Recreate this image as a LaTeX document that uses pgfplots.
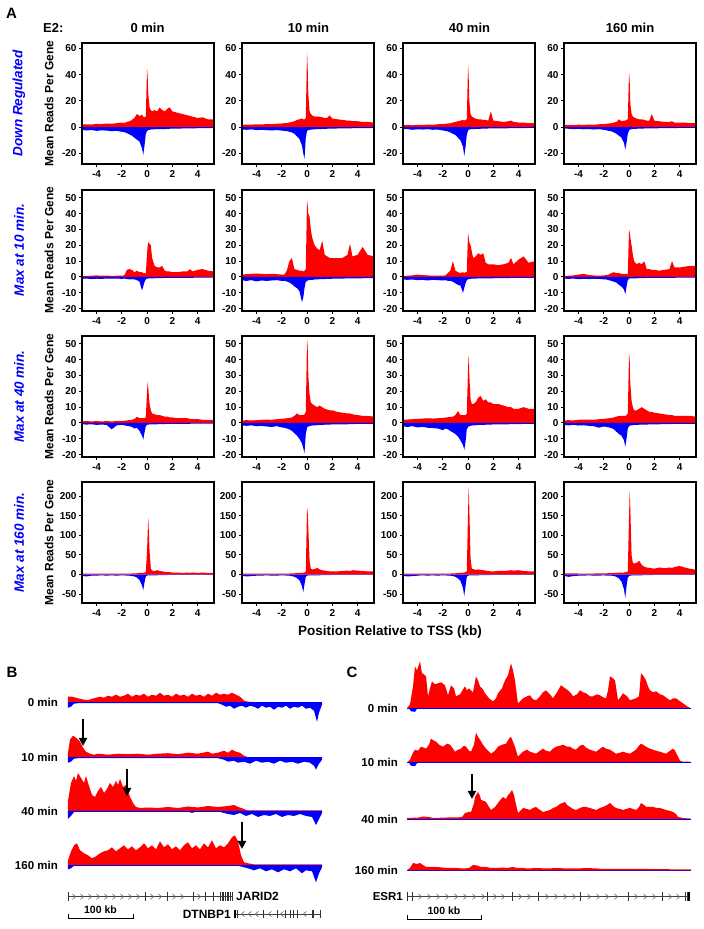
\documentclass[border=0pt]{standalone}
\usepackage{fontspec}
\setmainfont{Liberation Sans}
\usepackage{pgfplots}
\usepackage{pgfplotstable}
\pgfplotsset{compat=1.18}
\usetikzlibrary{arrows.meta}

\newcommand{\fs}[1]{\fontsize{#1}{#1}\selectfont\bfseries}

\pgfplotsset{
  prof/.style={scale only axis, width=132pt, height=121pt, anchor=south west,
    xmin=-5.15, xmax=5.3, xtick={-4,-2,0,2,4},
    axis line style={line width=1.5pt},
    tick style={line width=1pt, black}, major tick length=3pt,
    tick align=outside, tick pos=left,
    ticklabel style={font=\fs{10}},
    yticklabel style={xshift=1pt},
    /pgf/number format/assume math mode=true,
    axis on top},
  r1/.style={prof, ymin=-28, ymax=64, ytick={-20,0,20,40,60}},
  r2/.style={prof, ymin=-21.5, ymax=55, ytick={-20,-10,0,10,20,30,40,50}},
  r4/.style={prof, ymin=-73, ymax=237, ytick={-50,0,50,100,150,200}},
  trk/.style={scale only axis, anchor=south west, axis lines=none, clip=false},
}
\tikzset{arr/.style={line width=2pt, -{Triangle[length=8pt,width=8pt]}}}

% x, then positive (p) and negative (n) strand for the four time points
\pgfplotstableread{
x     p1   n1    p2   n2    p3   n3    p4   n4
-5.2  2.0 -2.0   1.8 -1.8   1.5 -1.2   1.5 -1.0
-4.8  2.2 -2.5   2.0 -2.0   1.8 -1.5   1.8 -1.2
-4.4  2.0 -2.2   1.9 -1.7   1.4 -2.0   1.6 -1.5
-4.0  2.5 -2.8   2.2 -2.2   1.8 -1.6   1.9 -1.3
-3.6  2.3 -2.4   2.0 -2.0   1.6 -1.8   1.7 -1.6
-3.2  2.8 -2.6   2.4 -2.3   2.0 -1.5   2.0 -1.4
-2.8  2.6 -3.0   2.2 -2.5   1.8 -2.0   1.8 -1.8
-2.4  3.0 -2.8   2.6 -2.2   2.2 -1.8   2.2 -1.5
-2.0  3.5 -3.5   2.8 -2.6   2.4 -2.5   2.4 -2.0
-1.8  3.2 -3.8   3.0 -2.8   2.6 -2.8   2.6 -2.4
-1.6  4.0 -4.5   3.2 -3.0   2.8 -3.2   2.8 -2.8
-1.4  4.5 -5.5   3.5 -3.5   3.0 -4.0   3.0 -3.2
-1.2  5.5 -6.5   4.0 -4.0   3.5 -5.0   3.5 -4.0
-1.0  7.0 -8.0   4.5 -5.0   4.0 -6.0   4.0 -5.0
-0.8 10.0 -9.5   5.5 -7.0   4.5 -8.0   6.0 -6.5
-0.6  8.5 -11    6.0 -9.0   5.0 -10    4.5 -8.0
-0.4  9.5 -16    6.5 -14    5.5 -15    5.0 -12
-0.3  8.0 -21    6.0 -20    5.0 -22    5.0 -17
-0.2  7.5 -14    6.0 -24    5.5 -15    5.5 -12
-0.1  8.0 -5     7.0 -8     6.0 -6     6.0 -5
0.0   45  -3     57  -3     47  -2.5   42  -2.5
0.05  38  -2.5   45  -2.5   38  -2     35  -2
0.1   25  -2.2   25  -2.2   20  -1.8   18  -1.8
0.2   15  -2     12  -2     10  -1.6   10  -1.5
0.3   13  -1.8   10  -1.8   8   -1.5   8   -1.4
0.4   12  -1.7   9   -1.8   7.5 -1.5   7.5 -1.3
0.6   13  -1.6   8   -1.6   6.5 -1.4   6.5 -1.2
0.8   12  -1.5   8   -1.5   6   -1.3   6   -1.2
1.0   15  -1.5   8   -1.4   6   -1.2   6   -1.1
1.2   13  -1.4   7.5 -1.4   5.5 -1.2   5.5 -1.0
1.4   12  -1.5   7   -1.3   5.5 -1.1   5   -1.0
1.6   14  -1.3   7   -1.2   5   -1.0   5   -1.0
1.8   15  -1.2   9   -1.2   12  -1.0   10  -0.9
2.0   12  -1.2   6.5 -1.1   5   -1.0   5   -0.9
2.4   11  -1.1   6   -1.0   4.5 -0.9   4.5 -0.8
2.8   10  -1.0   5.5 -1.0   4   -0.9   4   -0.8
3.2   9   -1.0   5   -0.9   4.5 -0.8   4   -0.8
3.4   8.5 -0.9   5   -0.9   5   -0.8   4.5 -0.7
3.6   8   -0.9   4.5 -0.8   4   -0.8   3.5 -0.7
4.0   7   -0.8   4.5 -0.8   3.5 -0.7   3.5 -0.6
4.4   7.5 -0.8   4   -0.7   3.5 -0.7   3.5 -0.6
4.8   6   -0.7   4   -0.7   3   -0.6   3   -0.6
5.3   6   -0.6   3.5 -0.6   3   -0.6   3   -0.5
}\rowdown

\pgfplotstableread{
x     p1   n1    p2   n2    p3   n3    p4   n4
-5.2  0.5 -1.2   1.5 -2.0   0.5 -1.5   0.5 -1.0
-4.8  0.6 -1.0   1.8 -2.5   0.8 -1.8   0.8 -1.2
-4.4  0.8 -1.3   2.0 -2.0   1.0 -1.6   1.0 -1.0
-4.0  1.0 -1.1   2.2 -2.8   1.5 -2.0   1.5 -1.4
-3.6  0.8 -1.2   2.0 -2.2   1.2 -1.8   2.0 -1.2
-3.2  0.9 -1.0   1.8 -2.5   1.0 -2.2   1.2 -1.3
-2.8  0.7 -1.1   2.0 -2.2   0.8 -1.8   1.0 -1.1
-2.4  0.8 -1.0   1.8 -2.0   0.8 -2.0   0.8 -1.2
-2.0  0.8 -1.2   1.5 -2.5   0.8 -2.2   1.0 -1.5
-1.8  1.0 -1.0   1.5 -2.4   1.0 -2.0   1.2 -1.6
-1.6  4.5 -1.3   4.0 -2.8   2.5 -2.4   1.5 -2.0
-1.4  5.0 -1.5   10  -3.5   4.0 -2.5   2.5 -2.5
-1.2  4.5 -1.4   12  -4.5   10  -3.0   3.0 -3.0
-1.0  3.0 -1.5   5.0 -6.0   4.0 -4.0   2.5 -3.5
-0.8  4.0 -2.0   4.5 -7.0   3.0 -5.0   2.5 -5.0
-0.6  3.0 -3.0   4.0 -9.0   2.5 -5.5   2.0 -6.0
-0.4  3.0 -8.5   4.0 -16    3.0 -10    2.0 -8.0
-0.3  2.5 -6.0   3.5 -13    2.5 -7.0   2.0 -11
-0.2  2.5 -3.0   4.0 -7.0   3.0 -4.0   2.0 -6.0
-0.1  2.0 -1.5   5.0 -3.0   3.0 -2.0   2.0 -2.0
0.0   15  -1.0   49  -2.5   28  -1.5   30  -1.0
0.05  20  -1.0   45  -2.2   25  -1.3   28  -1.0
0.1   22  -0.9   40  -2.0   22  -1.2   25  -0.9
0.2   21  -0.9   38  -2.0   20  -1.2   20  -0.9
0.3   20  -0.8   30  -1.8   16  -1.0   14  -0.8
0.4   12  -0.8   25  -1.8   12  -1.0   10  -0.8
0.6   7   -0.8   20  -1.6   13  -1.0   8   -0.8
0.8   6   -0.7   18  -1.5   15  -0.9   9   -0.7
1.0   6   -0.7   17  -1.4   14  -0.9   8   -0.7
1.2   7   -0.7   23  -1.4   15  -0.9   10  -0.7
1.4   4   -0.6   14  -1.3   9   -0.8   5   -0.6
1.6   3.5 -0.6   13  -1.2   8   -0.8   5   -0.6
1.8   3.5 -0.6   12  -1.2   8   -0.8   4.5 -0.6
2.0   3   -0.6   12  -1.1   8   -0.8   4.5 -0.6
2.4   3   -0.5   12  -1.0   7.5 -0.7   4   -0.5
2.8   3.5 -0.5   12  -1.0   8   -0.7   4.5 -0.5
3.2   3.5 -0.5   14  -0.9   9   -0.7   5   -0.5
3.4   5   -0.5   21  -0.9   12  -0.6   10  -0.5
3.6   3.5 -0.5   13  -0.9   8   -0.6   6   -0.5
4.0   4.5 -0.4   14  -0.8   11  -0.6   6   -0.4
4.4   5   -0.4   19  -0.8   13  -0.6   6.5 -0.4
4.8   4   -0.4   14  -0.7   9   -0.5   7   -0.4
5.3   3.5 -0.4   13  -0.7   10  -0.5   7   -0.4
}\rowten

\pgfplotstableread{
x     p1   n1    p2   n2    p3   n3    p4   n4
-5.2  1.0 -0.8   1.5 -1.5   2.0 -2.0   1.5 -1.2
-4.8  1.2 -1.0   1.8 -1.8   2.2 -2.5   1.8 -1.5
-4.4  1.0 -0.8   1.6 -1.5   2.4 -2.0   1.6 -1.2
-4.0  1.2 -1.2   1.8 -2.0   2.6 -2.8   2.0 -1.6
-3.6  1.0 -1.0   2.0 -1.8   2.8 -2.4   2.2 -1.4
-3.2  1.2 -1.2   2.2 -2.2   3.0 -3.0   2.2 -1.8
-2.8  1.0 -4.0   2.0 -2.5   2.8 -3.2   2.0 -2.0
-2.4  1.2 -1.5   2.4 -2.0   3.0 -3.5   2.4 -3.0
-2.0  1.4 -1.2   2.6 -2.8   3.2 -4.5   2.6 -2.2
-1.8  1.4 -1.5   2.8 -3.0   3.4 -3.5   2.8 -2.5
-1.6  1.6 -1.8   3.0 -3.5   3.6 -4.0   3.0 -2.8
-1.4  1.8 -2.0   3.2 -4.0   3.8 -5.0   3.2 -3.2
-1.2  2.0 -2.5   3.5 -5.0   4.0 -6.0   3.5 -4.0
-1.0  2.5 -3.5   4.5 -6.5   5.0 -7.0   4.0 -5.5
-0.8  4.0 -3.0   6.0 -8.0   7.5 -8.5   4.5 -7.0
-0.6  3.0 -5.0   5.0 -10    5.0 -11    4.5 -8.0
-0.4  3.0 -8.0   5.0 -13    5.0 -14    4.5 -11
-0.3  3.0 -10.5  5.0 -16    5.0 -17    4.5 -15
-0.2  3.0 -6.0   5.5 -19    5.0 -12    5.0 -10
-0.1  3.5 -2.0   7.0 -7.0   6.0 -4.0   6.0 -3.5
0.0   20  -1.2   53  -3.0   35  -2.5   44  -2.0
0.05  26  -1.0   48  -2.5   43  -2.2   40  -1.8
0.1   22  -1.0   30  -2.2   30  -2.0   25  -1.6
0.2   12  -0.9   18  -2.0   15  -1.8   14  -1.5
0.3   8   -0.9   13  -1.8   12  -1.6   10  -1.4
0.4   6   -0.8   12  -1.6   12  -1.5   8   -1.2
0.6   5.5 -0.8   11  -1.5   13  -1.4   8   -1.2
0.8   5   -0.8   10  -1.4   16  -1.3   9   -1.1
1.0   5   -0.7   11  -1.3   17  -1.2   10  -1.0
1.2   4.5 -0.7   10  -1.2   14  -1.2   9   -1.0
1.4   4   -0.7   9   -1.1   15  -1.1   8   -1.0
1.6   4   -0.6   8.5 -1.0   13  -1.0   7   -0.9
1.8   3.5 -0.6   8   -1.0   13  -1.0   7   -0.9
2.0   3.5 -0.6   8   -0.9   12  -0.9   6.5 -0.8
2.4   3   -0.5   7   -0.9   12  -0.9   6   -0.8
2.8   3   -0.5   6.5 -0.8   11  -0.8   5.5 -0.7
3.2   3   -0.5   6   -0.8   10  -0.8   5   -0.7
3.4   2.5 -0.5   6   -0.7   10  -0.7   5   -0.6
3.6   2.5 -0.4   5.5 -0.7   9   -0.7   4.5 -0.6
4.0   2.5 -0.4   5   -0.6   9   -0.7   4.5 -0.6
4.4   2   -0.4   4.5 -0.6   10  -0.6   4.5 -0.5
4.8   2   -0.4   4.5 -0.5   9   -0.6   4.5 -0.5
5.3   2   -0.4   4   -0.5   9   -0.5   4   -0.5
}\rowforty

\pgfplotstableread{
x     p1   n1    p2   n2    p3   n3    p4   n4
-5.2  2   -3    2   -3    2   -3    3   -3
-4.8  2   -5    2   -5    2   -5    3   -6
-4.4  2   -3    2   -4    2   -4    3   -4
-4.0  2   -3    2   -3    2   -3    2.5 -3
-3.6  2   -2    2   -3    2   -2    2.5 -3
-3.2  2   -3    2   -2    2   -3    2.5 -2
-2.8  2   -2    2   -3    2   -2    2.5 -3
-2.4  2   -3    2   -3    2   -3    3   -3
-2.0  2   -2    2   -2    2   -2    3   -2
-1.8  2   -2    2   -2    2   -2    3   -3
-1.6  2   -3    2   -3    2   -3    3.5 -3
-1.4  2.5 -3    2.5 -3    2.5 -3    3.5 -3
-1.2  2.5 -4    3   -4    3   -4    4   -4
-1.0  3   -5    3   -6    3   -6    4   -6
-0.8  3   -8    4   -9    4   -10   5   -10
-0.6  4   -14   4   -15   4   -16   5   -18
-0.4  4   -28   4   -30   5   -35   5   -38
-0.3  4   -40   5   -45   5   -55   6   -60
-0.2  5   -20   5   -25   6   -30   6   -30
-0.1  6   -5    8   -6    8   -6    8   -8
0.0   60  -3    172 -3    160 -3    150 -4
0.05  110 -2.5  160 -3    225 -3    215 -3
0.1   145 -2.5  120 -2.5  170 -2.5  170 -3
0.2   60  -2    35  -2    40  -2    50  -2.5
0.3   15  -2    15  -2    15  -2    30  -2.5
0.4   10  -2    13  -2    14  -2    28  -2
0.6   9   -2    14  -2    12  -2    30  -2
0.8   11  -2    17  -2    13  -2    35  -2
1.0   9   -1.5  13  -2    12  -1.5  25  -2
1.2   8   -1.5  11  -1.5  11  -1.5  20  -1.5
1.4   7   -1.5  10  -1.5  10  -1.5  18  -1.5
1.6   6   -1.5  9   -1.5  9   -1.5  17  -1.5
1.8   6   -1    8   -1.5  8   -1.5  16  -1.5
2.0   5   -1    8   -1    8   -1    15  -1
2.4   5   -1    8   -1    9   -1    18  -1
2.8   4   -1    9   -1    9   -1    16  -1
3.2   5   -1    10  -1    10  -1    18  -1
3.4   4   -1    9   -1    11  -1    17  -1
3.6   5   -1    11  -1    10  -1    19  -1
4.0   4   -1    10  -1    11  -1    22  -1
4.4   5   -1    9   -1    9   -1    18  -1
4.8   4   -1    8   -1    8   -1    15  -1
5.3   4   -1    8   -1    8   -1    12  -1
}\rowonesixty

% #1 row style, #2 left, #3 bottom, #4 table, #5 column
\newcommand{\panel}[5]{%
  \begin{axis}[#1, at={(#2pt,#3pt)}]
    \addplot[fill=red, draw=none] table[x=x, y=p#5]{#4} \closedcycle;
    \addplot[fill=blue, draw=none] table[x=x, y=n#5]{#4} \closedcycle;
  \end{axis}}

\begin{document}
\begin{tikzpicture}
\path (0pt,0pt) rectangle (704pt,929pt);

% ---------------- panel A ----------------
\node[anchor=west, inner sep=0] at (6pt,916pt) {\fs{15}A};
\node[anchor=west, inner sep=0] at (43pt,901pt) {\fs{13}E2:};
\node at (147.5pt,901pt) {\fs{13}0 min};
\node at (308.5pt,901pt) {\fs{13}10 min};
\node at (469.5pt,901pt) {\fs{13}40 min};
\node at (630pt,901pt) {\fs{13}160 min};

\foreach \c/\xx in {1/82, 2/242, 3/403, 4/564} {
  \panel{r1}{\xx}{765}{\rowdown}{\c}
  \panel{r2}{\xx}{618}{\rowten}{\c}
  \panel{r2}{\xx}{472}{\rowforty}{\c}
  \panel{r4}{\xx}{326}{\rowonesixty}{\c}
}

\foreach \yy/\lab in {825.5/Down Regulated, 679/Max at 10 min., 532.5/Max at 40 min., 386.5/Max at 160 min.} {
  \node[rotate=90, text=blue] at (19pt,\yy pt) {\fontsize{13.5}{14}\selectfont\bfseries\itshape \lab};
  \node[rotate=90] at (49pt,\yy pt) {\fs{12}Mean Reads Per Gene};
}
\node at (390pt,297pt) {\fs{13.5}Position Relative to TSS (kb)};

% ---------------- panel B ----------------
\node[inner sep=0] at (12pt,257pt) {\fs{15}B};
\foreach \yy/\lab in {226.3/0 min, 171.3/10 min, 118/40 min, 63.7/160 min}
  \node[anchor=east, inner sep=0] at (58pt,\yy pt) {\fs{11.5}\lab};

\begin{axis}[trk, at={(68pt,204.3pt)}, width=254pt, height=62pt, xmin=0, xmax=254, ymin=-22, ymax=40]
\addplot[fill=red, draw=none] coordinates {(0,0)(0,6)(4,6)(8,5)(12,4)(16,3)(20,2.5)(24,4)(28,5)(32,6)(36,5)(40,7)(44,6)(48,8)(52,6)(56,7)(60,9)(64,6)(68,8)(72,7)(76,9)(80,6)(84,8)(88,7)(92,10)(96,7)(100,8)(104,6)(108,9)(112,7)(116,8)(120,6)(124,9)(128,7)(132,8)(136,6)(140,9)(144,7)(148,10)(152,8)(156,9)(160,8)(164,10)(168,8)(172,6)(176,2)(180,1)(190,0.5)(254,0.5)(254,0)} \closedcycle;
\addplot[fill=blue, draw=none] coordinates {(0,0)(0,-5)(3,-4)(6,-1)(10,-0.5)(150,-0.5)(154,-2)(158,-4)(162,-3)(166,-6)(170,-4)(174,-3)(178,-5)(182,-3)(186,-4)(190,-6)(194,-3)(198,-5)(202,-4)(206,-7)(210,-4)(214,-5)(218,-3)(222,-6)(226,-4)(230,-5)(234,-3)(238,-6)(242,-5)(246,-8)(249,-19)(251,-10)(254,-2)(254,0)} \closedcycle;
\addplot[blue, line width=0.8pt] coordinates {(0,0)(254,0)};
\end{axis}

\begin{axis}[trk, at={(68pt,149.3pt)}, width=254pt, height=62pt, xmin=0, xmax=254, ymin=-22, ymax=40]
\addplot[fill=red, draw=none] coordinates {(0,0)(0,5)(2,18)(5,22)(8,20)(12,16)(15,10)(18,6)(22,4)(26,3)(30,4)(40,3)(50,4)(60,3.5)(70,4)(80,3)(90,4)(100,4.5)(110,3.5)(120,5)(130,4)(140,6)(144,4)(150,5)(156,7)(160,5)(164,8)(168,6)(172,5)(176,2)(180,0.5)(254,0.5)(254,0)} \closedcycle;
\addplot[fill=blue, draw=none] coordinates {(0,0)(0,-5)(3,-4)(6,-1)(10,-0.5)(150,-0.5)(156,-2)(160,-4)(166,-3)(170,-5)(176,-4)(182,-6)(188,-3)(194,-5)(200,-4)(206,-6)(212,-3)(218,-5)(224,-4)(230,-6)(236,-4)(242,-5)(246,-8)(248,-12)(251,-6)(254,-2)(254,0)} \closedcycle;
\addplot[blue, line width=0.8pt] coordinates {(0,0)(254,0)};
\end{axis}

\begin{axis}[trk, at={(68pt,96pt)}, width=254pt, height=62pt, xmin=0, xmax=254, ymin=-22, ymax=40]
\addplot[fill=red, draw=none] coordinates {(0,0)(0,10)(3,28)(6,35)(8,30)(10,38)(13,33)(16,28)(18,35)(21,25)(24,16)(27,14)(30,20)(33,24)(36,18)(39,22)(42,28)(45,24)(48,30)(50,26)(52,32)(55,24)(58,26)(60,20)(62,14)(65,8)(68,4)(72,3)(80,3.5)(90,3)(100,4)(110,3)(120,4.5)(130,3.5)(140,5)(150,4)(160,5)(166,6)(170,4)(176,2)(180,0.5)(254,0.5)(254,0)} \closedcycle;
\addplot[fill=blue, draw=none] coordinates {(0,0)(0,-8)(3,-5)(6,-1)(10,-0.5)(120,-0.5)(124,-2)(128,-0.5)(150,-0.5)(156,-2)(160,-3)(166,-4)(172,-2)(178,-5)(184,-3)(190,-6)(196,-4)(202,-5)(208,-3)(214,-6)(220,-4)(226,-5)(232,-3)(238,-5)(244,-6)(248,-14)(251,-8)(254,-2)(254,0)} \closedcycle;
\addplot[blue, line width=0.8pt] coordinates {(0,0)(254,0)};
\end{axis}

\begin{axis}[trk, at={(68pt,41.7pt)}, width=254pt, height=62pt, xmin=0, xmax=254, ymin=-22, ymax=40]
\addplot[fill=red, draw=none] coordinates {(0,0)(0,5)(3,14)(6,20)(9,22)(12,15)(16,12)(20,10)(24,7)(28,9)(32,12)(36,14)(40,15)(44,18)(48,14)(52,17)(56,20)(60,16)(64,19)(68,15)(72,18)(76,22)(80,17)(84,20)(88,16)(92,24)(96,18)(100,21)(104,16)(108,19)(112,15)(116,20)(120,23)(124,17)(128,20)(132,16)(136,22)(140,18)(144,25)(148,17)(152,20)(156,18)(160,22)(164,28)(167,30)(170,24)(173,10)(176,3)(180,2)(186,1)(254,1)(254,0)} \closedcycle;
\addplot[fill=blue, draw=none] coordinates {(0,0)(0,-4)(3,-3)(6,-0.5)(170,-0.5)(176,-2)(180,-3)(186,-5)(192,-3)(198,-6)(204,-4)(210,-7)(216,-4)(222,-6)(228,-3)(234,-8)(238,-5)(244,-6)(248,-17)(251,-8)(254,-2)(254,0)} \closedcycle;
\addplot[blue, line width=0.8pt] coordinates {(0,0)(254,0)};
\end{axis}

\draw[arr] (83pt,210pt) -- (83pt,183pt);
\draw[arr] (127pt,160pt) -- (127pt,133pt);
\draw[arr] (242pt,107pt) -- (242pt,80pt);

% gene models
\draw[black!75, line width=0.7pt] (68pt,32.3pt) -- (233pt,32.3pt);
\foreach \g in {68,145,167,193,205,213,220,222,223,225,227,228,230,232}
  \draw[black!80, line width=0.7pt] (\g pt,28pt) -- (\g pt,36.6pt);
\foreach \g in {74,82,90,98,106,114,122,130,138,152,160,174,182,199}
  \draw[black!60, line width=0.6pt] (\g pt-1.5pt,35pt) -- (\g pt+1.5pt,32.3pt) -- (\g pt-1.5pt,29.6pt);
\node[anchor=west, inner sep=0] at (236pt,32.3pt) {\fs{12}JARID2};
\draw[black!75, line width=0.7pt] (235pt,15pt) -- (320pt,15pt);
\foreach \g in {237,263,277,285,290,293,297,312,313,320}
  \draw[black!80, line width=0.7pt] (\g pt,10.7pt) -- (\g pt,19.3pt);
\draw[black, line width=1.2pt] (235pt,10.7pt) -- (235pt,19.3pt);
\foreach \g in {243,250,257,270,282,305}
  \draw[black!60, line width=0.6pt] (\g pt+1.5pt,17.7pt) -- (\g pt-1.5pt,15pt) -- (\g pt+1.5pt,12.3pt);
\node[anchor=east, inner sep=0] at (231pt,15pt) {\fs{12}DTNBP1};
\draw[line width=0.9pt] (68pt,15pt) -- (68pt,11pt) -- (133pt,11pt) -- (133pt,15pt);
\node[inner sep=0] at (100.5pt,19.5pt) {\fs{10.5}100 kb};

% ---------------- panel C ----------------
\node[inner sep=0] at (352pt,257pt) {\fs{15}C};
\foreach \yy/\lab in {220.7/0 min, 166.3/10 min, 110/40 min, 59/160 min}
  \node[anchor=east, inner sep=0] at (398pt,\yy pt) {\fs{11.5}\lab};

\begin{axis}[trk, at={(407pt,210.7pt)}, width=284pt, height=60pt, xmin=0, xmax=284, ymin=-10, ymax=50]
\addplot[fill=red, draw=none] coordinates {(0,0)(3,4)(6,22)(8,42)(10,38)(13,47)(15,35)(17,34)(19,32)(21,12)(23,20)(25,27)(28,24)(31,25)(34,26)(38,23)(41,13)(44,23)(47,20)(49,12)(53,14)(58,22)(60,18)(62,20)(66,16)(69,32)(71,28)(73,22)(76,19)(78,15)(82,10)(86,7)(89,10)(91,15)(95,20)(98,28)(101,33)(104,45)(106,38)(108,28)(110,12)(111,5)(114,8)(116,10)(120,12)(123,13)(126,9)(129,8)(133,12)(136,16)(139,18)(143,14)(146,10)(150,16)(154,23)(158,20)(161,18)(164,15)(166,12)(170,14)(173,18)(176,16)(179,15)(183,12)(186,12)(190,14)(193,13)(196,11)(199,10)(201,18)(203,32)(206,30)(208,28)(211,8)(214,12)(216,15)(220,12)(223,8)(226,9)(229,10)(232,12)(234,35)(236,33)(239,28)(241,22)(243,18)(246,16)(249,17)(253,14)(256,13)(260,10)(263,8)(266,10)(269,10)(273,7)(276,5)(280,2)(283,0.5)(284,0)} \closedcycle;
\addplot[fill=blue, draw=none] coordinates {(2,0)(4,-3)(8,-3.5)(10,-0.5)(12,0)} \closedcycle;
\addplot[blue, line width=0.9pt] coordinates {(0,0)(284,0)};
\end{axis}

\begin{axis}[trk, at={(407pt,156.3pt)}, width=284pt, height=60pt, xmin=0, xmax=284, ymin=-10, ymax=50]
\addplot[fill=red, draw=none] coordinates {(0,0)(3,3)(6,10)(8,13)(11,12)(14,16)(17,15)(19,14)(22,18)(24,24)(27,22)(29,21)(32,18)(36,16)(40,19)(43,18)(46,14)(48,11)(51,13)(54,14)(57,17)(59,16)(62,12)(64,11)(67,18)(69,30)(71,26)(73,23)(76,18)(79,14)(82,11)(84,9)(88,12)(91,16)(95,18)(99,19)(102,24)(104,26)(106,21)(108,16)(110,9)(111,6)(114,9)(116,11)(120,13)(123,11)(126,10)(129,9)(133,12)(136,14)(139,12)(143,11)(146,14)(149,16)(153,17)(156,18)(160,16)(163,16)(166,14)(169,13)(173,17)(176,18)(179,15)(183,13)(186,12)(189,11)(193,14)(196,16)(199,14)(203,13)(206,11)(209,9)(213,10)(216,11)(219,10)(223,9)(226,11)(229,13)(232,17)(234,19)(236,18)(239,16)(243,14)(246,13)(249,12)(253,11)(256,10)(259,9)(263,12)(266,14)(268,12)(271,6)(273,2)(276,1)(283,1)(284,0)} \closedcycle;
\addplot[fill=blue, draw=none] coordinates {(2,0)(4,-3)(8,-3.5)(10,-0.5)(12,0)} \closedcycle;
\addplot[blue, line width=0.9pt] coordinates {(0,0)(284,0)};
\end{axis}

\begin{axis}[trk, at={(407pt,100pt)}, width=284pt, height=60pt, xmin=0, xmax=284, ymin=-10, ymax=50]
\addplot[fill=red, draw=none] coordinates {(0,0)(0,1)(12,1.5)(16,2.5)(22,2)(26,1)(40,1.5)(50,1.5)(55,2)(58,6)(62,7)(64,7)(67,16)(68,22)(71,27)(73,23)(74,19)(77,18)(79,17)(82,12)(84,9)(88,12)(91,16)(94,20)(96,22)(99,20)(101,24)(103,26)(105,29)(107,24)(108,19)(110,10)(111,6)(114,9)(116,11)(120,10)(123,9)(126,11)(129,12)(133,9)(136,7)(140,8)(143,9)(146,11)(149,12)(153,15)(158,17)(160,14)(163,12)(166,10)(169,9)(173,11)(176,12)(179,12)(183,11)(186,10)(189,9)(193,11)(196,12)(200,14)(203,16)(206,13)(209,11)(213,10)(216,9)(219,10)(223,11)(226,10)(229,9)(232,12)(234,16)(237,14)(239,12)(243,12)(246,12)(250,11)(253,11)(256,10)(259,9)(263,8)(266,7)(269,5)(271,2)(276,1)(283,0.5)(284,0)} \closedcycle;
\addplot[blue, line width=0.9pt] coordinates {(0,0)(284,0)};
\end{axis}

\begin{axis}[trk, at={(407pt,49pt)}, width=284pt, height=60pt, xmin=0, xmax=284, ymin=-10, ymax=50]
\addplot[fill=red, draw=none] coordinates {(0,0)(3,2)(6,7)(10,6)(13,7)(16,5)(19,3)(25,3)(30,3)(35,2.5)(40,2)(50,2)(56,1.5)(62,2)(66,5)(70,4.5)(74,3)(79,3)(84,2)(90,2)(96,2.5)(100,2)(106,3)(110,2)(116,2)(120,1.5)(130,2)(140,1.5)(150,2)(160,1.5)(170,1.5)(180,2)(190,1.5)(196,1)(210,1)(240,1)(284,0.5)(284,0)} \closedcycle;
\addplot[blue!70!red, line width=0.9pt] coordinates {(0,0)(284,0)};
\end{axis}

\draw[arr] (472pt,155pt) -- (472pt,130pt);

\draw[black!75, line width=0.7pt] (407pt,32.3pt) -- (689pt,32.3pt);
\foreach \g in {407,412,487,512,538,580,628,662,685,687}
  \draw[black!80, line width=0.7pt] (\g pt,28pt) -- (\g pt,36.6pt);
\draw[black, line width=1.6pt] (689pt,28pt) -- (689pt,36.6pt);
\foreach \g in {420,429,438,447,456,465,474,483,495,503,520,529,547,556,565,574,589,598,607,616,636,645,654,670,678}
  \draw[black!60, line width=0.6pt] (\g pt-1.5pt,35pt) -- (\g pt+1.5pt,32.3pt) -- (\g pt-1.5pt,29.6pt);
\node[anchor=east, inner sep=0] at (403pt,32.3pt) {\fs{11.5}ESR1};
\draw[line width=0.9pt] (407pt,13.7pt) -- (407pt,9.7pt) -- (481pt,9.7pt) -- (481pt,13.7pt);
\node[inner sep=0] at (444pt,18.5pt) {\fs{10.5}100 kb};
\end{tikzpicture}
\end{document}
